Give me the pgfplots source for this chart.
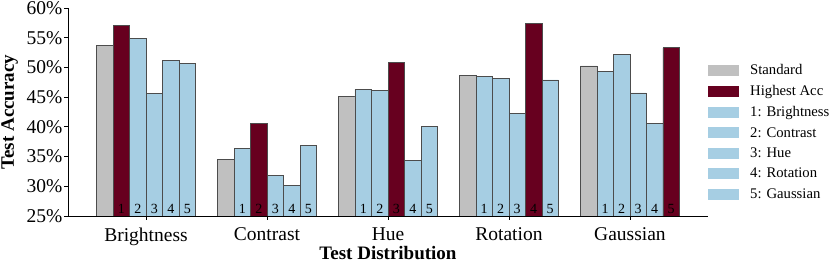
\documentclass[border=0pt]{standalone}
\usepackage{fontspec}
\setmainfont{Liberation Serif}
\usepackage{pgfplots}
\pgfplotsset{compat=1.18}
\definecolor{cgray}{RGB}{192,192,192}
\definecolor{cred}{RGB}{103,0,31}
\definecolor{cblue}{RGB}{166,206,227}
\begin{document}
\begin{tikzpicture}
\begin{axis}[
  scale only axis, width=640pt, height=208pt,
  xmin=-0.645, xmax=4.645, ymin=25, ymax=60,
  axis lines=left, axis line style={-, line width=0.8pt},
  tick align=outside, major tick length=4pt,
  tick style={line width=0.8pt, black},
  xtick={0,1,2,3,4},
  xticklabels={Brightness,Contrast,Hue,Rotation,Gaussian},
  ytick={25,30,35,40,45,50,55,60},
  yticklabels={25\%,30\%,35\%,40\%,45\%,50\%,55\%,60\%},
  ticklabel style={font=\fontsize{19.5}{22}\selectfont},
  xticklabel style={yshift=-4.5pt},
  yticklabel style={xshift=2pt},
  xlabel={\textbf{Test Distribution}},
  ylabel={\textbf{Test Accuracy}},
  label style={font=\fontsize{19}{22}\selectfont},
  xlabel style={at={(axis description cs:0.5,0)}, anchor=base, yshift=-44pt},
  ylabel style={yshift=2pt},
  legend style={draw=none, at={(1.0,0.76)}, anchor=north west, xshift=0pt, yshift=-4.5pt,
    font=\fontsize{14.7}{17}\selectfont, row sep=5.2pt, inner sep=0pt,
    /tikz/every odd column/.append style={column sep=9pt}},
  legend cell align=left,
  legend image code/.code={\fill[#1, draw=none] (0pt,-5.5pt) rectangle (31pt,5.5pt);},
  every axis plot/.append style={ybar, bar width=0.1364, bar shift=0, draw=black!70, line width=0.8pt},
]
\addlegendimage{fill=cgray}
\addlegendentry{Standard}
\addlegendimage{fill=cred}
\addlegendentry{Highest Acc}
\addlegendimage{fill=cblue}
\addlegendentry{1: Brightness}
\addlegendimage{fill=cblue}
\addlegendentry{2: Contrast}
\addlegendimage{fill=cblue}
\addlegendentry{3: Hue}
\addlegendimage{fill=cblue}
\addlegendentry{4: Rotation}
\addlegendimage{fill=cblue}
\addlegendentry{5: Gaussian}

\addplot[fill=cgray, forget plot] coordinates {(-0.341,53.7) (0.659,34.5) (1.659,45.1) (2.659,48.6) (3.659,50.25)};
\addplot[fill=cblue, forget plot] coordinates {
 (-0.0682,54.9) (0.0682,45.65) (0.2046,51.1) (0.341,50.7)
 (0.7954,36.4) (1.0682,31.8) (1.2046,30.1) (1.341,36.8)
 (1.7954,46.3) (1.9318,46.2) (2.2046,34.3) (2.341,40.1)
 (2.7954,48.45) (2.9318,48.1) (3.0682,42.2) (3.341,47.9)
 (3.7954,49.3) (3.9318,52.15) (4.0682,45.7) (4.2046,40.6)};
\addplot[fill=cred, forget plot] coordinates {(-0.2046,57.0) (0.9318,40.5) (2.0682,50.9) (3.2046,57.4) (4.341,53.3)};

\begin{scope}[every node/.style={anchor=base, font=\fontsize{14}{16}\selectfont, inner sep=0pt}]
\node at (axis cs:-0.2046,25) [yshift=2.7pt] {1};
\node at (axis cs:-0.0682,25) [yshift=2.7pt] {2};
\node at (axis cs:0.0682,25) [yshift=2.7pt] {3};
\node at (axis cs:0.2046,25) [yshift=2.7pt] {4};
\node at (axis cs:0.341,25) [yshift=2.7pt] {5};
\node at (axis cs:0.7954,25) [yshift=2.7pt] {1};
\node at (axis cs:0.9318,25) [yshift=2.7pt] {2};
\node at (axis cs:1.0682,25) [yshift=2.7pt] {3};
\node at (axis cs:1.2046,25) [yshift=2.7pt] {4};
\node at (axis cs:1.341,25) [yshift=2.7pt] {5};
\node at (axis cs:1.7954,25) [yshift=2.7pt] {1};
\node at (axis cs:1.9318,25) [yshift=2.7pt] {2};
\node at (axis cs:2.0682,25) [yshift=2.7pt] {3};
\node at (axis cs:2.2046,25) [yshift=2.7pt] {4};
\node at (axis cs:2.341,25) [yshift=2.7pt] {5};
\node at (axis cs:2.7954,25) [yshift=2.7pt] {1};
\node at (axis cs:2.9318,25) [yshift=2.7pt] {2};
\node at (axis cs:3.0682,25) [yshift=2.7pt] {3};
\node at (axis cs:3.2046,25) [yshift=2.7pt] {4};
\node at (axis cs:3.341,25) [yshift=2.7pt] {5};
\node at (axis cs:3.7954,25) [yshift=2.7pt] {1};
\node at (axis cs:3.9318,25) [yshift=2.7pt] {2};
\node at (axis cs:4.0682,25) [yshift=2.7pt] {3};
\node at (axis cs:4.2046,25) [yshift=2.7pt] {4};
\node at (axis cs:4.341,25) [yshift=2.7pt] {5};
\end{scope}
\end{axis}
\pgfresetboundingbox
\path[use as bounding box] ([xshift=-68pt,yshift=-48pt]current axis.south west) rectangle ([xshift=123pt,yshift=8pt]current axis.north east);
\end{tikzpicture}
\end{document}
